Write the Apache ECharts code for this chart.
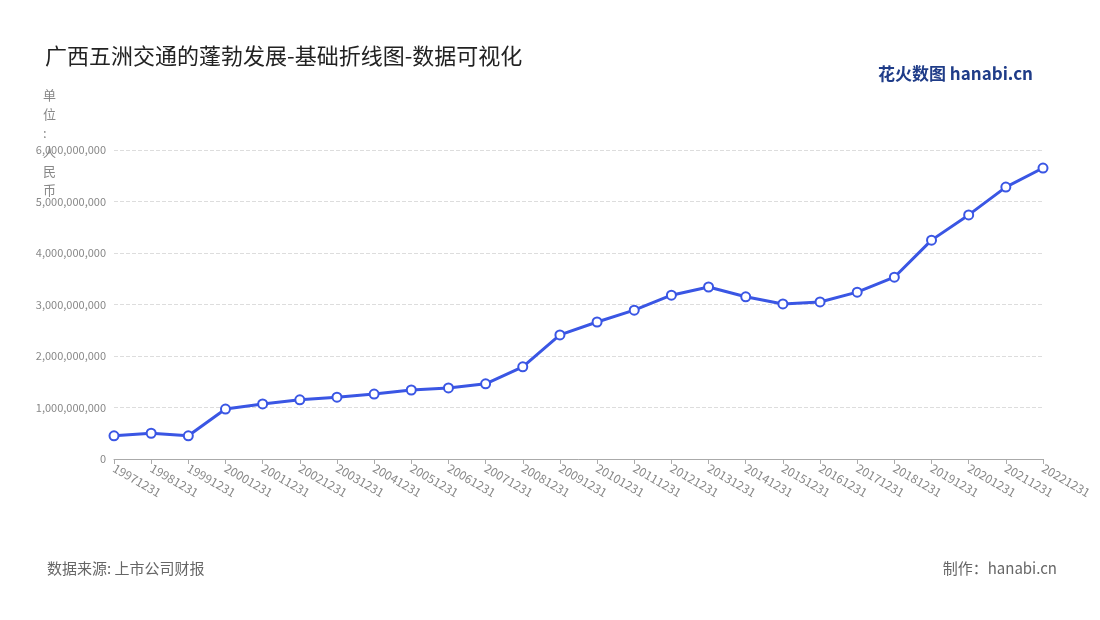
<!DOCTYPE html>
<html><head><meta charset="utf-8">
<script src="https://cdn.jsdelivr.net/npm/echarts@6/dist/echarts.min.js"></script>
<style>body{margin:0}#c{width:1100px;height:620px}</style></head>
<body><div id="c"></div>
<script>
const categories = ['19971231','19981231','19991231','20001231','20011231','20021231','20031231','20041231','20051231','20061231','20071231','20081231','20091231','20101231','20111231','20121231','20131231','20141231','20151231','20161231','20171231','20181231','20191231','20201231','20211231','20221231'];
const values = [0.45,0.50,0.45,0.97,1.07,1.15,1.20,1.26,1.34,1.38,1.46,1.79,2.41,2.66,2.89,3.18,3.34,3.15,3.01,3.05,3.24,3.53,4.25,4.74,5.28,5.65].map(v=>Math.round(v*1e9));
const chart = echarts.init(document.getElementById('c'));
const ff = '"Noto Sans CJK SC","Noto Sans",sans-serif';
chart.setOption({
  textStyle:{fontFamily:ff},
  title:[{text:'广西五洲交通的蓬勃发展-基础折线图-数据可视化',left:40,top:40,textStyle:{fontSize:22,fontWeight:'normal',color:'#222',fontFamily:ff}},
    {text:'数据来源: 上市公司财报',left:42,top:556,textStyle:{fontSize:15,fontWeight:'normal',color:'#666',fontFamily:ff}},
    {text:'制作：hanabi.cn',right:38,top:556,textStyle:{fontSize:15,fontWeight:'normal',color:'#666',fontFamily:ff}},
    {text:'花火数图 hanabi.cn',right:62,top:60,textStyle:{fontSize:17,fontWeight:'bold',color:'#1f3c88',fontFamily:ff}}],
  graphic:[{type:'text',left:43,top:86,style:{text:'单\n位\n:\n人\n民\n币',fill:'#888',font:'13px '+ff,lineHeight:19,align:'center'}}],
  grid:{left:114,right:57,top:150,bottom:161},
  xAxis:{type:'category',data:categories,boundaryGap:false,
    axisLine:{lineStyle:{color:'#aaa'}},axisTick:{lineStyle:{color:'#aaa'}},
    axisLabel:{rotate:-30,color:'#888',fontSize:12,interval:0,align:'left',margin:8}},
  yAxis:{type:'value',min:0,max:6000000000,interval:1000000000,
    axisLabel:{color:'#888',fontSize:11,formatter:v=>v.toLocaleString('en-US')},
    splitLine:{lineStyle:{type:'dashed',color:'#ddd'}},axisLine:{show:false},axisTick:{show:false}},
  series:[{type:'line',data:values,symbol:'circle',symbolSize:9,
    lineStyle:{color:'#3a56e4',width:3},
    itemStyle:{color:'#fff',borderColor:'#3a56e4',borderWidth:2}}]
});
</script></body></html>
